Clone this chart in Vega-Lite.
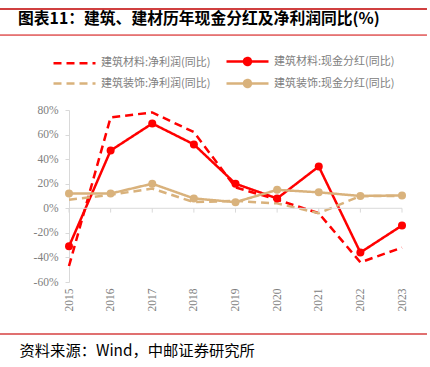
{
  "$schema": "https://vega.github.io/schema/vega-lite/v6.json",
  "width": 333,
  "height": 172,
  "autosize": {"type": "none"},
  "padding": {"left": 69, "top": 110, "right": 28, "bottom": 85},
  "background": "white",
  "title": {
    "text": "图表11：建筑、建材历年现金分红及净利润同比(%)",
    "anchor": "start",
    "frame": "group",
    "dx": -51,
    "offset": -20,
    "fontSize": 15.8,
    "fontWeight": "bold",
    "font": "Noto Sans CJK SC",
    "color": "#000000"
  },
  "config": {
    "view": {"stroke": null},
    "axis": {"grid": false, "labelOverlap": false},
    "axisY": {"labelOverlap": false, "tickCount": 8}
  },
  "data": {
    "values": [
      {"year": 2015, "series": "建筑材料:净利润(同比)", "value": -47},
      {"year": 2016, "series": "建筑材料:净利润(同比)", "value": 74},
      {"year": 2017, "series": "建筑材料:净利润(同比)", "value": 78},
      {"year": 2018, "series": "建筑材料:净利润(同比)", "value": 62},
      {"year": 2019, "series": "建筑材料:净利润(同比)", "value": 17},
      {"year": 2020, "series": "建筑材料:净利润(同比)", "value": 7},
      {"year": 2021, "series": "建筑材料:净利润(同比)", "value": -4},
      {"year": 2022, "series": "建筑材料:净利润(同比)", "value": -44},
      {"year": 2023, "series": "建筑材料:净利润(同比)", "value": -32},
      {"year": 2015, "series": "建筑材料:现金分红(同比)", "value": -31},
      {"year": 2016, "series": "建筑材料:现金分红(同比)", "value": 47},
      {"year": 2017, "series": "建筑材料:现金分红(同比)", "value": 69},
      {"year": 2018, "series": "建筑材料:现金分红(同比)", "value": 52},
      {"year": 2019, "series": "建筑材料:现金分红(同比)", "value": 20},
      {"year": 2020, "series": "建筑材料:现金分红(同比)", "value": 8},
      {"year": 2021, "series": "建筑材料:现金分红(同比)", "value": 34},
      {"year": 2022, "series": "建筑材料:现金分红(同比)", "value": -36},
      {"year": 2023, "series": "建筑材料:现金分红(同比)", "value": -14},
      {"year": 2015, "series": "建筑装饰:净利润(同比)", "value": 7},
      {"year": 2016, "series": "建筑装饰:净利润(同比)", "value": 11},
      {"year": 2017, "series": "建筑装饰:净利润(同比)", "value": 16},
      {"year": 2018, "series": "建筑装饰:净利润(同比)", "value": 5},
      {"year": 2019, "series": "建筑装饰:净利润(同比)", "value": 6},
      {"year": 2020, "series": "建筑装饰:净利润(同比)", "value": 4},
      {"year": 2021, "series": "建筑装饰:净利润(同比)", "value": -4},
      {"year": 2022, "series": "建筑装饰:净利润(同比)", "value": 10},
      {"year": 2023, "series": "建筑装饰:净利润(同比)", "value": 10},
      {"year": 2015, "series": "建筑装饰:现金分红(同比)", "value": 12},
      {"year": 2016, "series": "建筑装饰:现金分红(同比)", "value": 12},
      {"year": 2017, "series": "建筑装饰:现金分红(同比)", "value": 20},
      {"year": 2018, "series": "建筑装饰:现金分红(同比)", "value": 8},
      {"year": 2019, "series": "建筑装饰:现金分红(同比)", "value": 5},
      {"year": 2020, "series": "建筑装饰:现金分红(同比)", "value": 15},
      {"year": 2021, "series": "建筑装饰:现金分红(同比)", "value": 13},
      {"year": 2022, "series": "建筑装饰:现金分红(同比)", "value": 10},
      {"year": 2023, "series": "建筑装饰:现金分红(同比)", "value": 10.5}
    ]
  },
  "layer": [
    {
      "mark": {"type": "line", "strokeWidth": 2.5},
      "encoding": {
        "x": {
          "field": "year",
          "type": "quantitative",
          "scale": {"domain": [2015, 2023], "nice": false, "zero": false},
          "axis": {
            "values": [2015, 2016, 2017, 2018, 2019, 2020, 2021, 2022, 2023],
            "format": "d",
            "labelAngle": 270,
            "labelAlign": "right",
            "labelBaseline": "middle",
            "labelPadding": 6,
            "labelOverlap": false,
            "labelFont": "Liberation Serif",
            "labelFontSize": 11.5,
            "labelColor": "#808080",
            "domain": false,
            "ticks": false,
            "title": "资料来源：Wind，中邮证券研究所",
            "titleAnchor": "start",
            "titleAlign": "left",
            "titleBaseline": "middle",
            "titleX": -50,
            "titleY": 68,
            "titleFont": "Noto Sans CJK SC",
            "titleFontWeight": "normal",
            "titleFontSize": 15.3,
            "titleColor": "#000000"
          }
        },
        "y": {
          "field": "value",
          "type": "quantitative",
          "scale": {"domain": [-60, 80], "nice": false, "zero": false},
          "axis": {
            "values": [-60, -40, -20, 0, 20, 40, 60, 80],
            "labelExpr": "datum.value + '%'",
            "labelOverlap": false,
            "labelFont": "Liberation Serif",
            "labelFontSize": 11.5,
            "labelColor": "#808080",
            "labelPadding": 7,
            "domainColor": "#D9D9D9",
            "ticks": true,
            "tickSize": 4,
            "tickColor": "#D9D9D9",
            "title": null
          }
        },
        "color": {
          "field": "series",
          "type": "nominal",
          "scale": {
            "domain": ["建筑材料:净利润(同比)", "建筑装饰:净利润(同比)", "建筑材料:现金分红(同比)", "建筑装饰:现金分红(同比)"],
            "range": ["#FF0000", "#D9B27C", "#FF0000", "#D9B27C"]
          },
          "legend": {
            "orient": "none",
            "legendX": -17,
            "legendY": -57,
            "columns": 2,
            "columnPadding": 10,
            "rowPadding": 5,
            "title": null,
            "symbolSize": 196,
            "symbolStrokeWidth": 2.5,
            "labelFont": "Noto Sans CJK SC",
            "labelFontSize": 11,
            "labelColor": "#808080",
            "labelOffset": 32,
            "encode": {
              "symbols": {
                "update": {
                  "shape": {"signal": "indexof(datum.value, '现金') >= 0 ? 'M-1,0H5M1.5,0A0.5,0.5,0,1,1,2.5,0A0.5,0.5,0,1,1,1.5,0' : 'M-1,0H5'"},
                  "fill": {"signal": "indexof(datum.value, '材料') >= 0 ? '#FF0000' : '#D9B27C'"},
                  "fillOpacity": {"value": 1}
                }
              }
            }
          }
        },
        "strokeDash": {
          "field": "series",
          "type": "nominal",
          "scale": {
            "domain": ["建筑材料:净利润(同比)", "建筑装饰:净利润(同比)", "建筑材料:现金分红(同比)", "建筑装饰:现金分红(同比)"],
            "range": [[8, 5], [8, 5], [1, 0], [1, 0]]
          }
        }
      }
    },
    {
      "data": {"values": [{}]},
      "mark": {"type": "rule", "color": "#C00000", "strokeWidth": 1.5},
      "encoding": {
        "x": {"datum": 2013.3, "type": "quantitative"},
        "x2": {"datum": 2023.6},
        "y": {"datum": 162.2, "type": "quantitative"}
      }
    },
    {
      "data": {"values": [{}]},
      "mark": {"type": "rule", "color": "#D00000", "strokeWidth": 1},
      "encoding": {
        "x": {"datum": 2013.3, "type": "quantitative"},
        "x2": {"datum": 2023.6},
        "y": {"datum": 141, "type": "quantitative"}
      }
    },
    {
      "data": {"values": [{}]},
      "mark": {"type": "rule", "color": "#E07070", "strokeWidth": 2},
      "encoding": {
        "x": {"datum": 2013.3, "type": "quantitative"},
        "x2": {"datum": 2023.6},
        "y": {"datum": -102.3, "type": "quantitative"}
      }
    },
    {
      "data": {"values": [{}]},
      "mark": {"type": "rule", "color": "#D9D9D9", "strokeWidth": 1},
      "encoding": {
        "x": {"datum": 2015, "type": "quantitative"},
        "x2": {"datum": 2023},
        "y": {"datum": 0, "type": "quantitative"}
      }
    },
    {
      "data": {"values": [{"year": 2015}, {"year": 2016}, {"year": 2017}, {"year": 2018}, {"year": 2019}, {"year": 2020}, {"year": 2021}, {"year": 2022}, {"year": 2023}]},
      "mark": {"type": "rule", "color": "#D9D9D9", "strokeWidth": 1},
      "encoding": {
        "x": {"field": "year", "type": "quantitative"},
        "y": {"datum": 0, "type": "quantitative"},
        "y2": {"datum": -3.5}
      }
    },
    {
      "transform": [{"filter": "indexof(datum.series, '现金') >= 0"}],
      "mark": {"type": "point", "filled": true, "size": 64, "opacity": 1},
      "encoding": {
        "x": {"field": "year", "type": "quantitative"},
        "y": {"field": "value", "type": "quantitative"},
        "color": {"field": "series", "type": "nominal"}
      }
    }
  ]
}
